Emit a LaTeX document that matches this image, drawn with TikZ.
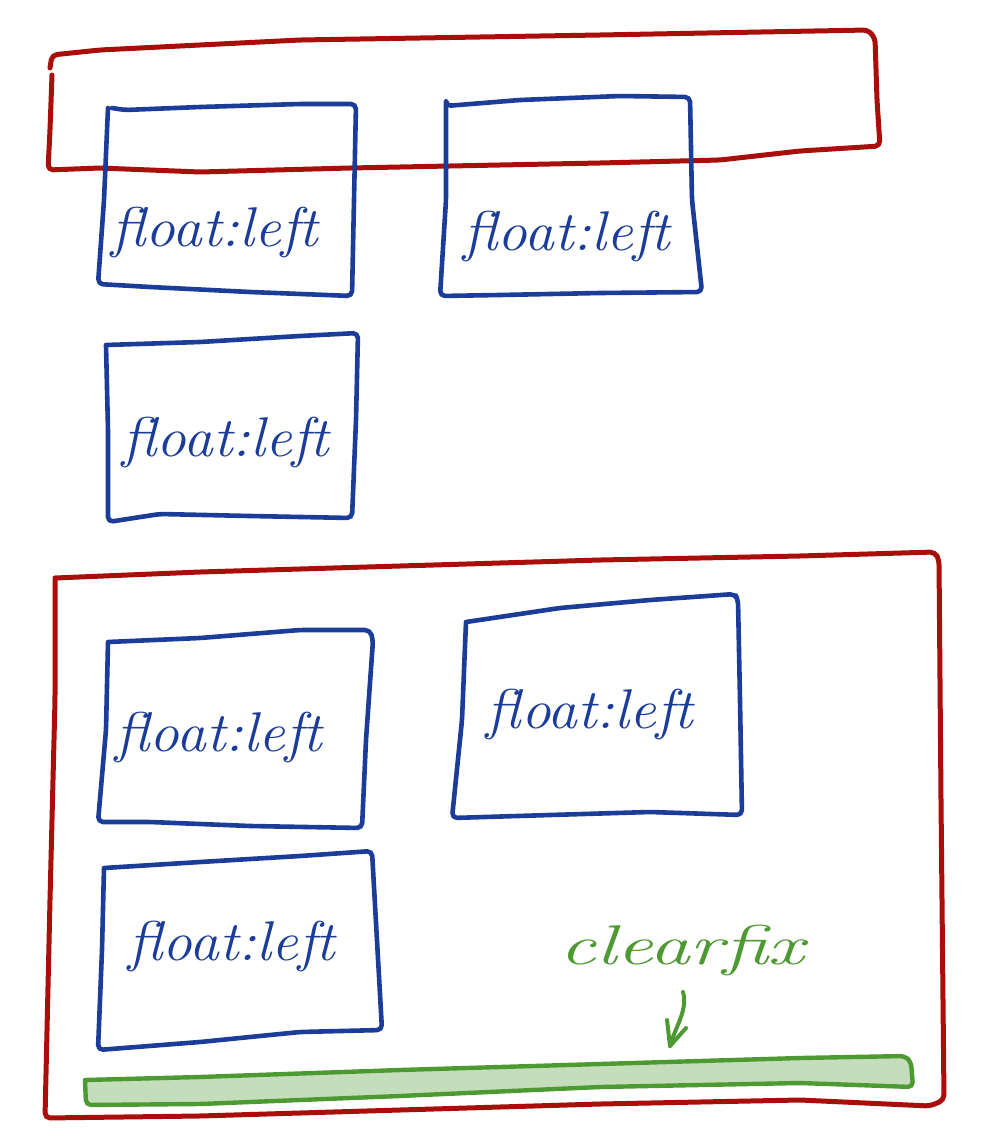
\documentclass[tikz,border=0pt]{standalone}
\usetikzlibrary{arrows.meta}
\usepackage{graphicx}
\definecolor{sred}{HTML}{A80E0A}
\definecolor{sblue}{HTML}{1B3C98}
\definecolor{sgreen}{HTML}{4E9A32}
\definecolor{sgfill}{HTML}{C4DDBB}
\tikzset{
  redline/.style={draw=sred,line width=5pt,line cap=round,line join=round,rounded corners=5pt},
  blueline/.style={draw=sblue,line width=4.6pt,line cap=round,line join=round,rounded corners=5pt},
  greenline/.style={draw=sgreen,line width=4.4pt,line cap=round,line join=round,rounded corners=5pt},
  hand/.style={font=\fontsize{56}{60}\selectfont\itshape,inner sep=0pt},
}
\newcommand{\wide}[1]{\scalebox{1.06}[1]{#1}}
\begin{document}
\begin{tikzpicture}[x=1pt,y=-1pt]
\useasboundingbox[fill=white] (0,0) rectangle (994,1146);
% top red container
\draw[redline] (50,68) -- (52,55) -- (100,50) -- (300,40) -- (600,35) -- (868,30) -- (875,38)
  -- (877,100) -- (880,146) -- (800,151) -- (720,160) -- (600,163) -- (450,166) -- (350,168) -- (200,172) -- (100,168) -- (48,170) -- (50,130) -- (52,75);
% blue box 1
\draw[blueline] (112,108) -- (125,110) -- (200,107) -- (300,104) -- (356,104) -- (354,200) -- (352,296) -- (250,292) -- (150,287) -- (98,284) -- (104,200) -- (108,108);
\node[hand,text=sblue] (f1) at (215,232) {\wide{float:left}};
% blue box 2
\draw[blueline] (446,102) -- (446,106) -- (520,100) -- (620,96) -- (690,97) -- (692,200) -- (702,292) -- (600,293) -- (500,295) -- (440,296) -- (446,200) -- (446,102);
\node[hand,text=sblue] (f2) at (567,236) {\wide{float:left}};
% blue box 3
\draw[blueline] (106,345) -- (200,342) -- (300,336) -- (358,333) -- (356,420) -- (352,518) -- (250,516) -- (160,514) -- (108,522) -- (108,430) -- (106,345);
\node[hand,text=sblue] (f3) at (226,442) {\wide{float:left}};
% bottom red container
\draw[redline] (55,578) -- (200,572) -- (400,566) -- (600,560) -- (800,556) -- (935,552) -- (939,560)
  -- (941,800) -- (944,1100) -- (930,1106) -- (800,1100) -- (600,1104) -- (400,1110) -- (200,1116) -- (45,1118) -- (50,900) -- (55,700) -- (55,578);
% blue box 4
\draw[blueline] (108,642) -- (200,638) -- (300,630) -- (370,630) -- (373,640) -- (366,740) -- (362,828) -- (250,826) -- (150,822) -- (98,822) -- (106,730) -- (108,642);
\node[hand,text=sblue] (f4) at (219,737) {\wide{float:left}};
% blue box 5
\draw[blueline] (466,622) -- (560,608) -- (650,600) -- (735,594) -- (738,600) -- (740,700) -- (742,815) -- (650,812) -- (550,815) -- (452,818) -- (462,720) -- (466,622);
\node[hand,text=sblue] (f5) at (590,714) {\wide{float:left}};
% blue box 6
\draw[blueline] (104,868) -- (200,862) -- (300,856) -- (372,851) -- (382,1030) -- (300,1032) -- (200,1042) -- (98,1050) -- (102,950) -- (104,868);
\node[hand,text=sblue] (f6) at (232,946) {\wide{float:left}};
% clearfix label and arrow
\node[hand,text=sgreen] (cf) at (682,950) {\scalebox{1.45}[1]{clearfix}};
\coordinate (bartop) at (670,1046);
\draw[draw=sgreen,line width=4pt,line cap=round,line join=round] (683,992) .. controls (688,1010) and (676,1025) .. (bartop);
\draw[draw=sgreen,line width=4pt,line cap=round,line join=round] (667,1020) -- (670,1046) -- (686,1028);
% green bar
\filldraw[greenline,fill=sgfill] (85,1080) -- (200,1077) -- (400,1070) -- (600,1064) -- (800,1058) -- (905,1056) -- (911,1062) -- (913,1087) -- (800,1083) -- (600,1087) -- (400,1096) -- (200,1104) -- (86,1105) -- (85,1080);
\end{tikzpicture}
\end{document}
